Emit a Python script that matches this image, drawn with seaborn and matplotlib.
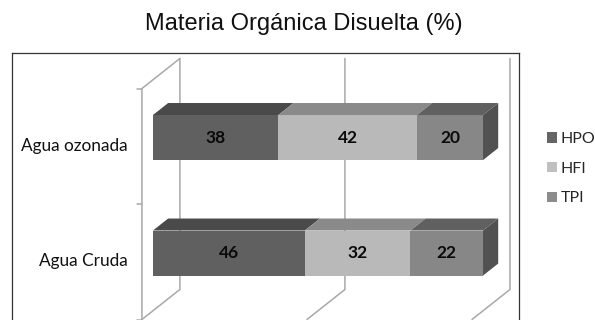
"""
Materia Orgánica Disuelta (%) - barras horizontales apiladas con aspecto 3D
(estilo Excel), hechas con seaborn + parches de matplotlib.
"""

import numpy as np
import pandas as pd
import matplotlib
matplotlib.use("Agg")
import matplotlib.pyplot as plt
from matplotlib.patches import Polygon
import seaborn as sns

# ── Datos ────────────────────────────────────────────────────────────────
muestras = ["Agua ozonada", "Agua Cruda"]
fracciones = ["HPO", "HFI", "TPI"]
hpo = [38, 46]
hfi = [42, 32]
tpi = [20, 22]
titulo = "Materia Orgánica Disuelta (%)"

# colores: cara frontal, cara superior, cara lateral
frente = {"HPO": "#606060", "HFI": "#b9b9b9", "TPI": "#878787"}
arriba = {"HPO": "#4a4a4a", "HFI": "#8a8a8a", "TPI": "#606060"}
lado = {"HPO": "#474747", "HFI": "#8a8a8a", "TPI": "#515151"}
leyenda_col = {"HPO": "#656565", "HFI": "#c0c0c0", "TPI": "#8c8c8c"}
color_pared = "#a8a8a8"

sns.set_theme(style="white")
plt.rcParams["font.family"] = ["Lato", "DejaVu Sans"]

df = pd.DataFrame({"muestra": muestras, "HPO": hpo, "HFI": hfi, "TPI": tpi})
df["c_hpo"] = df["HPO"]
df["c_hfi"] = df["HPO"] + df["HFI"]
df["c_tpi"] = df["c_hfi"] + df["TPI"]

# ── Geometría de la perspectiva ──────────────────────────────────────────
ALTO = 0.39          # alto de la barra (en unidades de categoría)
DX, DY = 11.5, -0.26  # vector de profundidad (datos) por unidad de d
D_FRENTE, D_FONDO, D_BARRA = -0.29, 0.71, 0.40


def proj(x, y, d):
    return x + d * DX, y + d * DY


fig = plt.figure(figsize=(5.95, 3.2), dpi=100)
ax = fig.add_axes([12 / 595, -2 / 320, 507 / 595, 269 / 320])

# paredes / líneas de división (detrás de las barras)
for xv in [0, 50, 100]:
    pts = [proj(xv, -0.5, D_FONDO), proj(xv, 1.5, D_FONDO), proj(xv, 1.5, D_FRENTE)]
    ax.plot(*zip(*pts), color=color_pared, lw=1.1, zorder=1, solid_joinstyle="miter")
pts = [proj(0, -0.5, D_FONDO), proj(0, -0.5, D_FRENTE), proj(0, 1.5, D_FRENTE)]
ax.plot(*zip(*pts), color=color_pared, lw=1.1, zorder=1)
for ye in [-0.5, 0.5, 1.5]:
    x0, y0 = proj(0, ye, D_FRENTE)
    ax.plot([x0 - 1.6, x0], [y0, y0], color=color_pared, lw=1.1, zorder=1)

# caras frontales: apiladas superponiendo acumulados
for col, frac in [("c_tpi", "TPI"), ("c_hfi", "HFI"), ("c_hpo", "HPO")]:
    sns.barplot(data=df, x=col, y="muestra", orient="h", color=frente[frac],
                width=ALTO, saturation=1, linewidth=0, ax=ax, zorder=3)

# caras superiores y lateral derecha
for i in range(len(muestras)):
    vals = [hpo[i], hfi[i], tpi[i]]
    izq = np.concatenate([[0], np.cumsum(vals)[:-1]])
    yt, yb = i - ALTO / 2, i + ALTO / 2
    for frac, l, v in zip(fracciones, izq, vals):
        r = l + v
        cara = [proj(l, yt, 0), proj(r, yt, 0), proj(r, yt, D_BARRA), proj(l, yt, D_BARRA)]
        ax.add_patch(Polygon(cara, closed=True, fc=arriba[frac], ec="none", zorder=3))
        ax.text(l + v / 2, i, f"{v}", ha="center", va="center", fontsize=12.5,
                fontweight="bold", color="#0a0a0a", zorder=5)
    r = izq[-1] + vals[-1]
    cara = [proj(r, yt, 0), proj(r, yb, 0), proj(r, yb, D_BARRA), proj(r, yt, D_BARRA)]
    ax.add_patch(Polygon(cara, closed=True, fc=lado["TPI"], ec="none", zorder=3))

# etiquetas de categoría en el plano frontal
for i, m in enumerate(muestras):
    ax.annotate(m, xy=proj(0, i, D_FRENTE), xytext=(-10.5, 0.5),
                textcoords="offset points", ha="right", va="center",
                fontsize=12.4, color="#111111")

ax.set_xlim(-42.7, 110.9)
ax.set_ylim(1.597, -0.732)
ax.set_xticks([])
ax.set_yticks([])
ax.set_xlabel("")
ax.set_ylabel("")
for s in ax.spines.values():
    s.set_color("#333333")
    s.set_linewidth(0.9)

# leyenda fuera del marco
manejadores = [plt.Rectangle((0, 0), 1, 1, fc=leyenda_col[f], ec="none") for f in fracciones]
fig.legend(manejadores, fracciones, loc="upper left", bbox_to_anchor=(547 / 595, 1 - 132 / 320),
           frameon=False, fontsize=11.5, handlelength=0.62, handleheight=0.62,
           handletextpad=0.25, labelspacing=0.98, borderaxespad=0, borderpad=0)

fig.text(0.511, 1 - 24 / 320, titulo, ha="center", va="center", fontsize=17,
         family=["Liberation Sans", "DejaVu Sans"], color="#111111")

fig.savefig("out.png", dpi=100)
